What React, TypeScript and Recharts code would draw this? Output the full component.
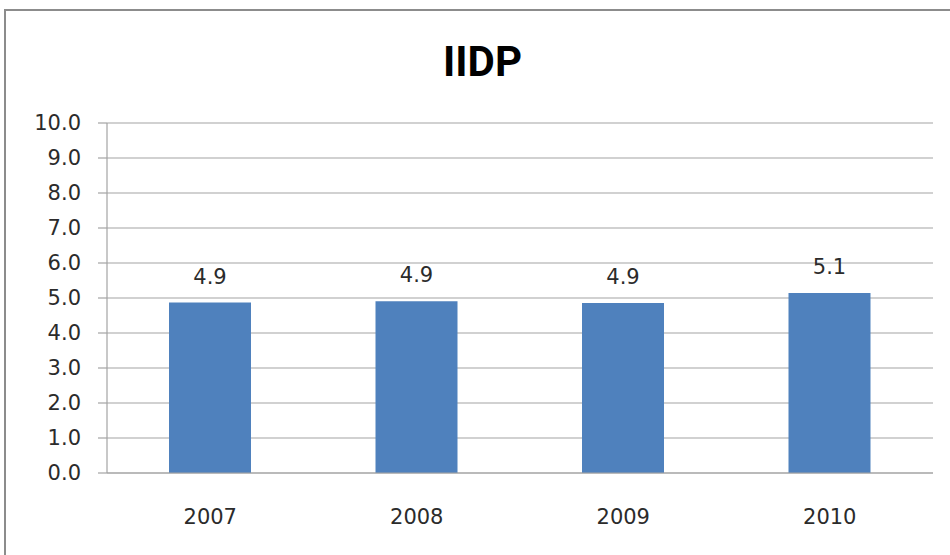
import { BarChart, Bar, XAxis, YAxis, CartesianGrid, LabelList } from 'recharts';

const years = ['2007', '2008', '2009', '2010'];
const iidpValues = [4.87, 4.91, 4.86, 5.14];
const yTicks = [0, 1, 2, 3, 4, 5, 6, 7, 8, 9, 10];

const data = years.map((year, i) => ({ year, value: iidpValues[i] }));

const FONT = '"DejaVu Sans", sans-serif';

export default function App() {
  return (
    <div style={{ position: 'absolute', left: 0, top: 0, width: 950, height: 555, overflow: 'hidden', background: '#fff' }}>
      {/* outer frame, only the left and top edges are inside the picture */}
      <div
        style={{
          position: 'absolute',
          left: 4,
          top: 9,
          width: 1100,
          height: 700,
          borderLeft: '2px solid #8c8c8c',
          borderTop: '2px solid #8c8c8c',
        }}
      />
      <div
        style={{
          position: 'absolute',
          left: 0,
          top: 41,
          width: 965,
          textAlign: 'center',
          fontFamily: 'Roboto, sans-serif',
          fontWeight: 700,
          fontSize: 42,
          lineHeight: 1,
          color: '#000',
        }}
      >
        IIDP
      </div>
      <div style={{ position: 'absolute', left: 0, top: 0 }}>
        <BarChart
          width={950}
          height={555}
          data={data}
          margin={{ top: 123, right: 17, left: 0, bottom: 32 }}
          barCategoryGap="30%"
        >
          <CartesianGrid vertical={false} stroke="#a3a3a3" strokeWidth={1.2} />
          <XAxis
            dataKey="year"
            height={50}
            axisLine={{ stroke: '#a3a3a3', strokeWidth: 1.2 }}
            tickLine={false}
            tickSize={0}
            tickMargin={36}
            tick={{ fill: '#2b2b2b', fontSize: 21, fontFamily: FONT }}
          />
          <YAxis
            width={107}
            domain={[0, 10]}
            ticks={yTicks}
            interval={0}
            tickFormatter={(v: number) => v.toFixed(1)}
            axisLine={{ stroke: '#a3a3a3', strokeWidth: 1.2 }}
            tickLine={{ stroke: '#a3a3a3', strokeWidth: 1.2 }}
            tickSize={9}
            tickMargin={17}
            tick={{ fill: '#2b2b2b', fontSize: 21, fontFamily: FONT }}
          />
          <Bar dataKey="value" fill="#4f81bd" barSize={82} isAnimationActive={false}>
            <LabelList
              dataKey="value"
              position="top"
              offset={19}
              formatter={(v: number) => v.toFixed(1)}
              style={{ fill: '#2b2b2b', fontSize: 21, fontFamily: FONT }}
            />
          </Bar>
        </BarChart>
      </div>
    </div>
  );
}
